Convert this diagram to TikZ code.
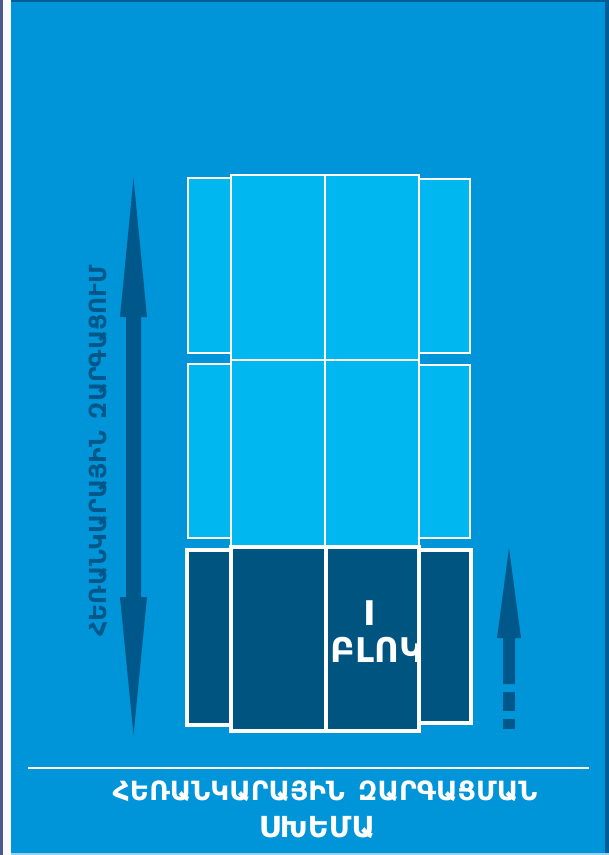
\documentclass[tikz,border=0pt]{standalone}
\usepackage{fontspec}
\setmainfont{DejaVu Sans}
\definecolor{bgblue}{RGB}{0,148,216}
\definecolor{lightbox}{RGB}{0,183,240}
\definecolor{darkbox}{RGB}{0,84,128}
\definecolor{arrowblue}{RGB}{0,88,138}
\definecolor{leftedge}{RGB}{74,88,140}
\definecolor{rightedge}{RGB}{0,92,150}
\definecolor{bottomedge}{RGB}{150,210,240}
\tikzset{
  lightcell/.style={fill=lightbox, draw=white, line width=2pt},
  darkcell/.style={fill=darkbox, draw=white, line width=4pt},
  arrowshape/.style={fill=arrowblue},
  whitetext/.style={text=white, font=\bfseries, inner sep=0pt, anchor=base},
}
\begin{document}
\begin{tikzpicture}[x=1pt,y=-1pt]
\useasboundingbox (0,0) rectangle (609,855);
% background and edges
\fill[bgblue] (0,0) rectangle (609,855);
\fill[leftedge] (0,0) rectangle (3,855);
\fill[white!96!gray] (3,0) rectangle (11,855);
\fill[rightedge] (11,0) rectangle (609,1.5);
\fill[rightedge] (605,0) rectangle (609,855);
\fill[bottomedge] (11,853) rectangle (609,855);
% light row 1
\draw[lightcell] (188,178) rectangle (231,353);
\draw[lightcell] (419,179) rectangle (470,353);
\draw[lightcell] (231,175) rectangle (419,360);
\draw[white, line width=2pt] (325,175) -- (325,360);
% light row 2
\draw[lightcell] (188,364) rectangle (231,538);
\draw[lightcell] (419,365) rectangle (470,538);
\draw[lightcell] (231,360) rectangle (419,546);
\draw[white, line width=2pt] (325,360) -- (325,546);
% dark row
\draw[darkcell] (187,550) rectangle (231,725);
\draw[darkcell] (419,550) rectangle (471,723);
\draw[darkcell] (231,547) rectangle (419,731);
\draw[white, line width=4pt] (326,547) -- (326,731);
% double arrow
\fill[arrowshape] (133.5,178) -- (147,317) -- (141,317) -- (141,597) -- (147,597)
  -- (133.5,735) -- (120,597) -- (126,597) -- (126,317) -- (120,317) -- cycle;
% right arrow
\fill[arrowshape] (509,548) -- (521,638) -- (515,638) -- (515,684) -- (503,684)
  -- (503,638) -- (497,638) -- cycle;
\fill[arrowshape] (503,692) rectangle (515,711);
\fill[arrowshape] (503,719) rectangle (515,729);
% separator line
\draw[white, line width=1.5pt] (28,768) -- (589,768);
% texts
\node[whitetext, font=\bfseries\fontsize{34}{34}\selectfont] (blocknum) at (370,625) {I};
\node[whitetext, font=\bfseries\fontsize{34}{34}\selectfont] (blockname) at (377,662) {ԲԼՈԿ};
\node[whitetext, font=\bfseries\fontsize{26.5}{26.5}\selectfont] (title1) at (325,800) {ՀԵՌԱՆԿԱՐԱՅԻՆ\hspace{0.5em}ԶԱՐԳԱՑՄԱՆ};
\node[whitetext, font=\bfseries\fontsize{29}{29}\selectfont] (title2) at (317,837) {ՍԽԵՄԱ};
\node[whitetext, text=arrowblue, rotate=90, font=\bfseries\fontsize{23.5}{23.5}\selectfont] (vtext) at (106,451) {ՀԵՌԱՆԿԱՐԱՅԻՆ\hspace{0.5em}ԶԱՐԳԱՑՈՒՄ};
\end{tikzpicture}
\end{document}
